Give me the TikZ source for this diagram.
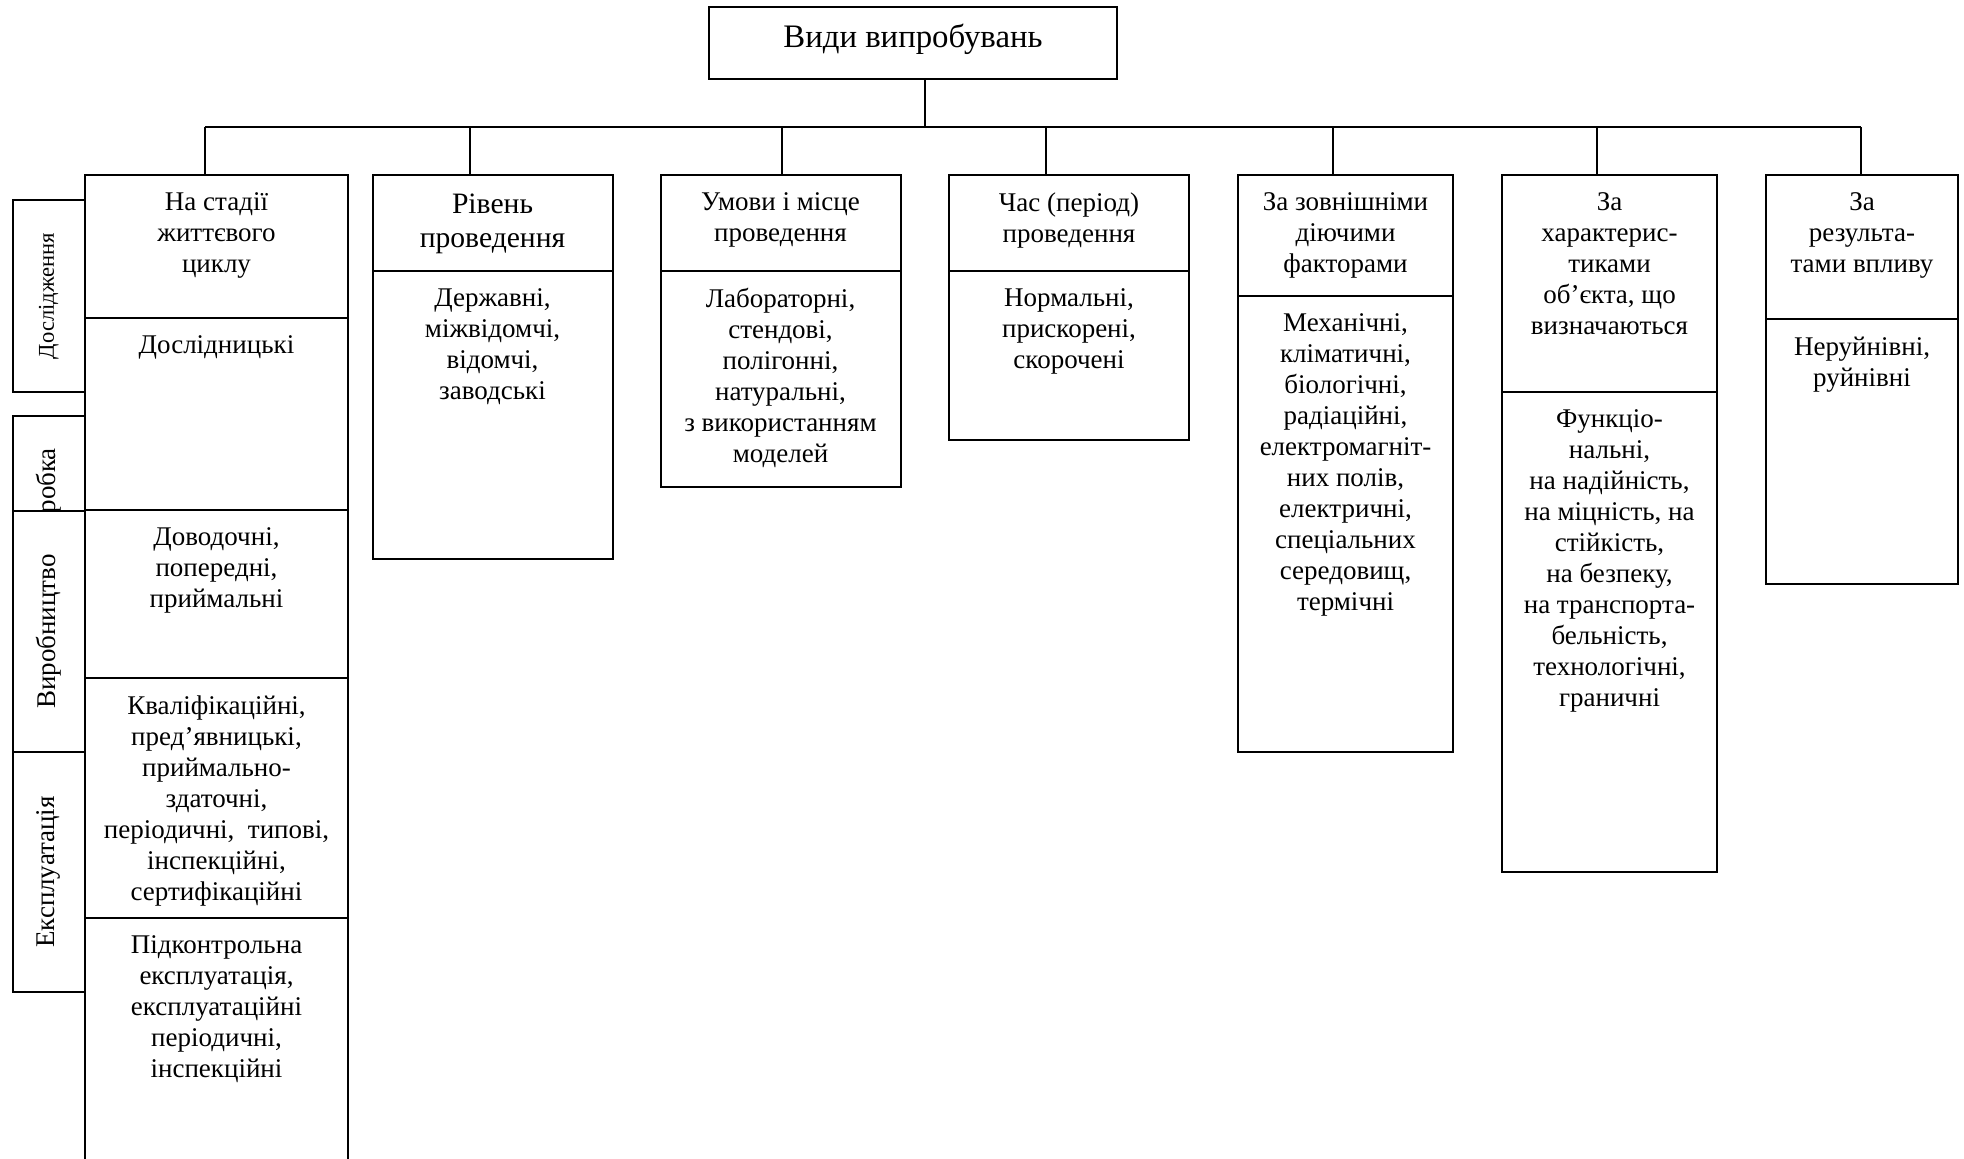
\documentclass[tikz,border=0pt]{standalone}
\usepackage{fontspec}
\setmainfont{Liberation Serif}
\usetikzlibrary{positioning}
\newcommand{\bodyfont}{\fontsize{13.5}{15.5}\selectfont}
\tikzstyle{cell} = [rectangle, draw, line width=1pt, fill=white, inner sep=0pt, outer sep=0pt]
\tikzstyle{celltext} = [align=center, inner sep=0pt, font=\bodyfont]
\tikzstyle{stage} = [rectangle, draw, line width=1pt, fill=white, inner sep=0pt, outer sep=0pt, rotate=90, minimum height=36.25pt, font=\bodyfont]
\tikzstyle{link} = [line width=1pt]

\begin{document}
\begin{tikzpicture}[x=0.5pt, y=-0.5pt]
\path[use as bounding box] (0,0) rectangle (1964,1158);
\clip (0,0) rectangle (1964,1158);

% root and bus
\node (root) [cell, minimum width=204pt, minimum height=35.75pt] at (913,43) {};
\node (troot) [celltext, font=\fontsize{16.4}{19}\selectfont] at (913,39) {Види випробувань};
\coordinate (stem) at (925,127);
\coordinate (j1) at (205,127);
\coordinate (j2) at (470,127);
\coordinate (j3) at (782,127);
\coordinate (j4) at (1046,127);
\coordinate (j5) at (1333,127);
\coordinate (j6) at (1597,127);
\coordinate (j7) at (1861,127);

% life cycle stages
\node (s1) [stage, minimum width=96pt, font=\fontsize{11.3}{13}\selectfont] at (48.75,296) {Дослідження};
\node (s2) [stage, minimum width=84pt] at (48.75,500) {Розробка};
\node (s3) [stage, minimum width=120.5pt] at (48.75,631.5) {Виробництво};
\node (s4) [stage, minimum width=120pt] at (48.75,872) {Експлуатація};

% column 1
\node (h1) [cell, minimum width=131.5pt, minimum height=71.5pt, anchor=north] at (216.5,175) {};
\node (b1a) [cell, minimum width=131.5pt, minimum height=96pt, below=0pt of h1] {};
\node (b1b) [cell, minimum width=131.5pt, minimum height=84pt, below=0pt of b1a] {};
\node (b1c) [cell, minimum width=131.5pt, minimum height=120pt, below=0pt of b1b] {};
\node (b1d) [cell, minimum width=131.5pt, minimum height=150pt, below=0pt of b1c] {};
\node (th1) [celltext, below=8.75pt of h1.north] {На стадії\\життєвого\\циклу};
\node (tb1a) [celltext, below=8.75pt of b1a.north] {Дослідницькі};
\node (tb1b) [celltext, below=8.75pt of b1b.north] {Доводочні,\\попередні,\\приймальні};
\node (tb1c) [celltext, below=8.75pt of b1c.north] {Кваліфікаційні,\\пред’явницькі,\\приймально-\\здаточні,\\періодичні, \ типові,\\інспекційні,\\сертифікаційні};
\node (tb1d) [celltext, below=8.75pt of b1d.north] {Підконтрольна\\експлуатація,\\експлуатаційні\\періодичні,\\інспекційні};

% column 2
\node (h2) [cell, minimum width=120pt, minimum height=47.75pt, anchor=north] at (492.5,175) {};
\node (b2) [cell, minimum width=120pt, minimum height=144.25pt, below=0pt of h2] {};
\node (th2) [celltext, below=9.25pt of h2.north, font=\fontsize{14.8}{17}\selectfont] {Рівень\\проведення};
\node (tb2) [celltext, below=8.75pt of b2.north] {Державні,\\міжвідомчі,\\відомчі,\\заводські};

% column 3
\node (h3) [cell, minimum width=120pt, minimum height=47.75pt, anchor=north] at (780.5,175) {};
\node (b3) [cell, minimum width=120pt, minimum height=108.25pt, below=0pt of h3] {};
\node (th3) [celltext, below=8.75pt of h3.north] {Умови і місце\\проведення};
\node (tb3) [celltext, below=8.75pt of b3.north] {Лабораторні,\\стендові,\\полігонні,\\натуральні,\\з використанням\\моделей};

% column 4
\node (h4) [cell, minimum width=120pt, minimum height=47.75pt, anchor=north] at (1069,175) {};
\node (b4) [cell, minimum width=120pt, minimum height=84.75pt, below=0pt of h4] {};
\node (th4) [celltext, below=8.75pt of h4.north] {Час (період)\\проведення};
\node (tb4) [celltext, below=8.75pt of b4.north] {Нормальні,\\прискорені,\\скорочені};

% column 5
\node (h5) [cell, minimum width=107.5pt, minimum height=60.25pt, anchor=north] at (1345.5,175) {};
\node (b5) [cell, minimum width=107.5pt, minimum height=228.25pt, below=0pt of h5] {};
\node (th5) [celltext, below=8.75pt of h5.north] {За зовнішніми\\діючими\\факторами};
\node (tb5) [celltext, below=8.75pt of b5.north] {Механічні,\\кліматичні,\\біологічні,\\радіаційні,\\електромагніт-\\них полів,\\електричні,\\спеціальних\\середовищ,\\термічні};

% column 6
\node (h6) [cell, minimum width=107.5pt, minimum height=108.5pt, anchor=north] at (1609.5,175) {};
\node (b6) [cell, minimum width=107.5pt, minimum height=240pt, below=0pt of h6] {};
\node (th6) [celltext, below=8.75pt of h6.north] {За\\характерис-\\тиками\\об’єкта, що\\визначаються};
\node (tb6) [celltext, below=8.75pt of b6.north] {Функціо-\\нальні,\\на надійність,\\на міцність, на\\стійкість,\\на безпеку,\\на транспорта-\\бельність,\\технологічні,\\граничні};

% column 7
\node (h7) [cell, minimum width=96pt, minimum height=72pt, anchor=north] at (1862,175) {};
\node (b7) [cell, minimum width=96pt, minimum height=132.5pt, below=0pt of h7] {};
\node (th7) [celltext, below=8.75pt of h7.north] {За\\результа-\\тами впливу};
\node (tb7) [celltext, below=8.75pt of b7.north] {Неруйнівні,\\руйнівні};

% connectors
\draw[link] (stem |- root.south) -- (stem);
\draw[link] (j1) -- (j7);
\draw[link] (j1) -- (j1 |- h1.north);
\draw[link] (j2) -- (j2 |- h2.north);
\draw[link] (j3) -- (j3 |- h3.north);
\draw[link] (j4) -- (j4 |- h4.north);
\draw[link] (j5) -- (j5 |- h5.north);
\draw[link] (j6) -- (j6 |- h6.north);
\draw[link] (j7) -- (j7 |- h7.north);
\end{tikzpicture}
\end{document}
